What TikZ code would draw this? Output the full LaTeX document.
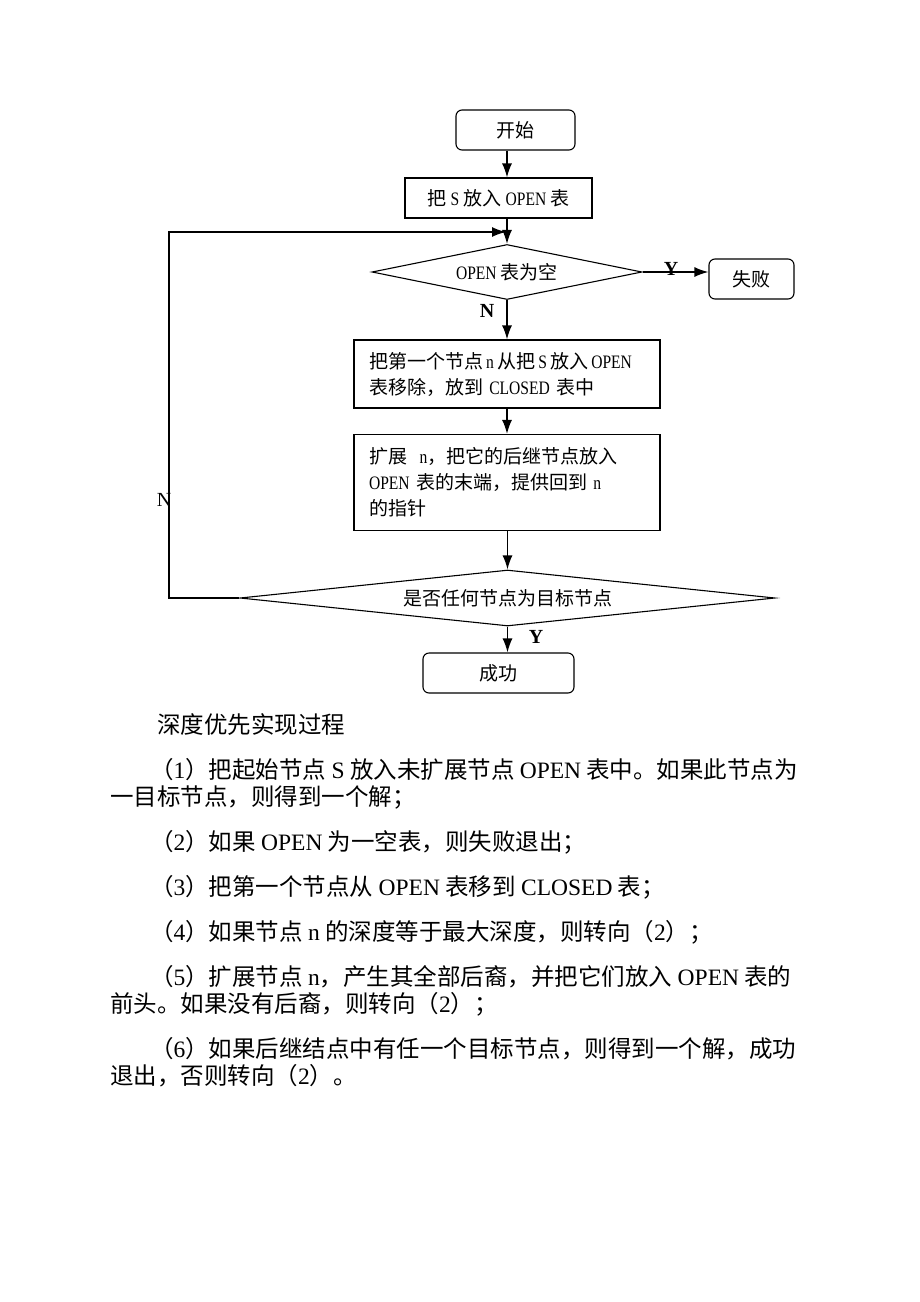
\documentclass[tikz,border=0pt]{standalone}
\usepackage{fontspec}
\setmainfont{Noto Sans CJK SC}
\newfontfamily\latfont{Liberation Serif}
\newfontfamily\narrowfont[FakeStretch=0.82]{Liberation Serif}
\newcommand{\engl}[1]{{\latfont #1}}
\newcommand{\chl}[1]{{\narrowfont #1}}
\usetikzlibrary{shapes.geometric,arrows.meta,positioning}

\tikzset{
	chart/.style={font=\fontsize{19}{26}\selectfont},
	term/.style={chart, draw, rounded corners=6pt, line width=1.1pt, minimum height=40pt, inner sep=0pt},
	proc/.style={chart, draw, line width=1.1pt, minimum height=40pt, inner sep=0pt},
	cond/.style={chart, draw, diamond, line width=1.1pt, inner sep=0pt},
	flow/.style={line width=1.6pt, -{Latex[length=14pt,width=10pt]}},
	yn/.style={font=\fontsize{20}{20}\selectfont\latfont\bfseries, inner sep=0pt},
	body/.style={anchor=base west, inner sep=0pt, font=\fontsize{23.5}{27}\selectfont},
}

\begin{document}
\begin{tikzpicture}[x=1pt,y=-1pt]
	\fill[white] (0,0) rectangle (920,1302);
	\useasboundingbox (0,0) rectangle (920,1302);

	% flow chart
	\node[term, minimum width=119pt] (start) at (515.5,130) {开始};
	\node[proc, minimum width=187pt] (put) at (498.5,198) {把 \chl{S} 放入 \chl{OPEN} 表};
	\node[cond, minimum width=270pt, minimum height=55pt, aspect=4.9] (empty) at (507,272) {\chl{OPEN} 表为空};
	\node[term, minimum width=85pt] (fail) at (751.5,279) {失败};
	\node[proc, minimum width=306pt, minimum height=68pt, text width=276pt, align=left] (move) at (507,374)
		{把第一个节点\,\chl{n}\,从把\,\chl{S}\,放入\,\chl{OPEN}\\表移除，放到 \chl{CLOSED} 表中};
	\node[proc, minimum width=306pt, minimum height=96pt, text width=276pt, align=left] (expand) at (507,482.5)
		{扩展 \ \chl{n}，把它的后继节点放入\\\chl{OPEN} 表的末端，提供回到 \chl{n}\\的指针};
	\node[cond, minimum width=535pt, minimum height=56pt, aspect=9.5] (goal) at (507.5,598) {是否任何节点为目标节点};
	\node[term, minimum width=151pt] (done) at (498.5,673) {成功};

	\coordinate (corner) at (169,232);
	\coordinate (loop) at (506,232);

	\draw[flow] (start.south -| empty.north) -- (empty.north |- put.north);
	\draw[flow] (put.south -| empty.north) -- (empty.north);
	\draw[flow] (empty.east) -- (fail.west |- empty.east);
	\draw[flow] (empty.south) -- (move.north);
	\draw[flow] (move.south) -- (expand.north);
	\draw[flow] (expand.south -| goal.north) -- (goal.north);
	\draw[flow] (goal.south) -- (goal.south |- done.north);
	\draw[flow] (goal.west) -| (corner) -- (loop);

	\node[yn] (y1) at (671,269) {Y};
	\node[yn] (n1) at (487,311) {N};
	\node[yn] (y2) at (536,637) {Y};
	\node[yn, font=\fontsize{20}{20}\selectfont\latfont] (n2) at (164,500) {N};

	% text below
	\node[body] (title) at (157,733) {深度优先实现过程};
	\node[body] (s1) at (150,778) {（\engl{1}）把起始节点 \engl{S} 放入未扩展节点 \engl{OPEN} 表中。如果此节点为};
	\node[body] (s1b) at (110,805) {一目标节点，则得到一个解；};
	\node[body] (s2) at (150,850) {（\engl{2}）如果 \engl{OPEN} 为一空表，则失败退出；};
	\node[body] (s3) at (150,895) {（\engl{3}）把第一个节点从 \engl{OPEN} 表移到 \engl{CLOSED} 表；};
	\node[body] (s4) at (150,940) {（\engl{4}）如果节点 \engl{n} 的深度等于最大深度，则转向（\engl{2}）；};
	\node[body] (s5) at (150,985) {（\engl{5}）扩展节点 \engl{n}，产生其全部后裔，并把它们放入 \engl{OPEN} 表的};
	\node[body] (s5b) at (110,1012) {前头。如果没有后裔，则转向（\engl{2}）；};
	\node[body] (s6) at (150,1057) {（\engl{6}）如果后继结点中有任一个目标节点，则得到一个解，成功};
	\node[body] (s6b) at (110,1084) {退出，否则转向（\engl{2}）。};
\end{tikzpicture}
\end{document}
